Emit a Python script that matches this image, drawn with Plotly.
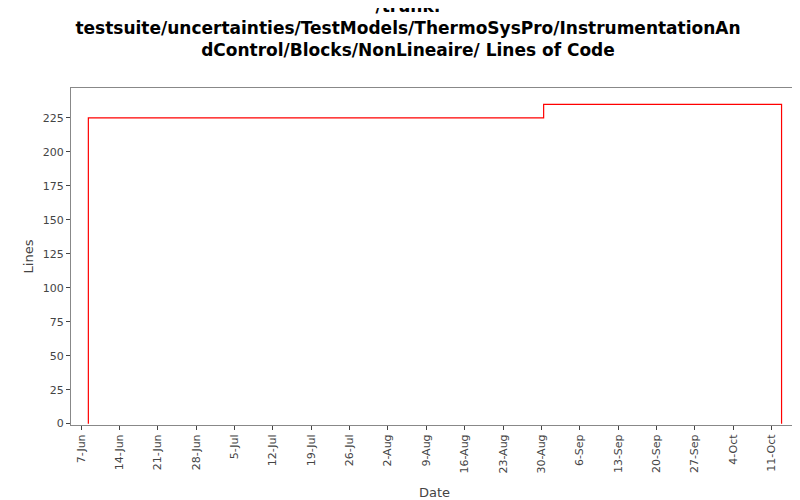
import plotly.graph_objects as go

dates = ['2009-06-08 08:00', '2009-06-08 08:00', '2009-08-30 10:00', '2009-08-30 10:00',
         '2009-10-12 20:00', '2009-10-12 20:00']
lines = [0, 225, 225, 235, 235, 0]

tick_vals = ['2009-06-07', '2009-06-14', '2009-06-21', '2009-06-28', '2009-07-05', '2009-07-12',
             '2009-07-19', '2009-07-26', '2009-08-02', '2009-08-09', '2009-08-16', '2009-08-23',
             '2009-08-30', '2009-09-06', '2009-09-13', '2009-09-20', '2009-09-27', '2009-10-04',
             '2009-10-11']
tick_text = ['7-Jun', '14-Jun', '21-Jun', '28-Jun', '5-Jul', '12-Jul', '19-Jul', '26-Jul', '2-Aug',
             '9-Aug', '16-Aug', '23-Aug', '30-Aug', '6-Sep', '13-Sep', '20-Sep', '27-Sep', '4-Oct',
             '11-Oct']

fig = go.Figure(go.Scatter(x=dates, y=lines, mode='lines', line=dict(color='red', width=1.2)))

fig.update_layout(
    width=800, height=500,
    paper_bgcolor='white', plot_bgcolor='white',
    font=dict(family='DejaVu Sans', size=11, color='#444'),
    title=dict(text='<b>/trunk:<br>testsuite/uncertainties/TestModels/ThermoSysPro/InstrumentationAn<br>dControl/Blocks/NonLineaire/ Lines of Code</b>',
               x=0.5, y=1, yref='container', yanchor='top', pad=dict(t=4), automargin=False,
               font=dict(family='DejaVu Sans', size=17, color='black')),
    margin=dict(l=63, r=10, t=80, b=77),
    showlegend=False,
)
fig.update_xaxes(range=['2009-06-05 04:00', '2009-10-15 20:00'], tickvals=tick_vals, ticktext=tick_text,
                 tickangle=-90, ticks='outside', ticklen=4, showgrid=False, showline=True,
                 linecolor='#888', mirror=True, title=dict(text='Date', font=dict(size=13)))
fig.update_yaxes(range=[-1, 247], tickvals=list(range(0, 226, 25)), ticks='outside', ticklen=4,
                 showgrid=False, showline=True, linecolor='#888', mirror=True, zeroline=False,
                 automargin=False, title=dict(text='Lines', font=dict(size=13), standoff=6))

fig.write_html('out.html')
